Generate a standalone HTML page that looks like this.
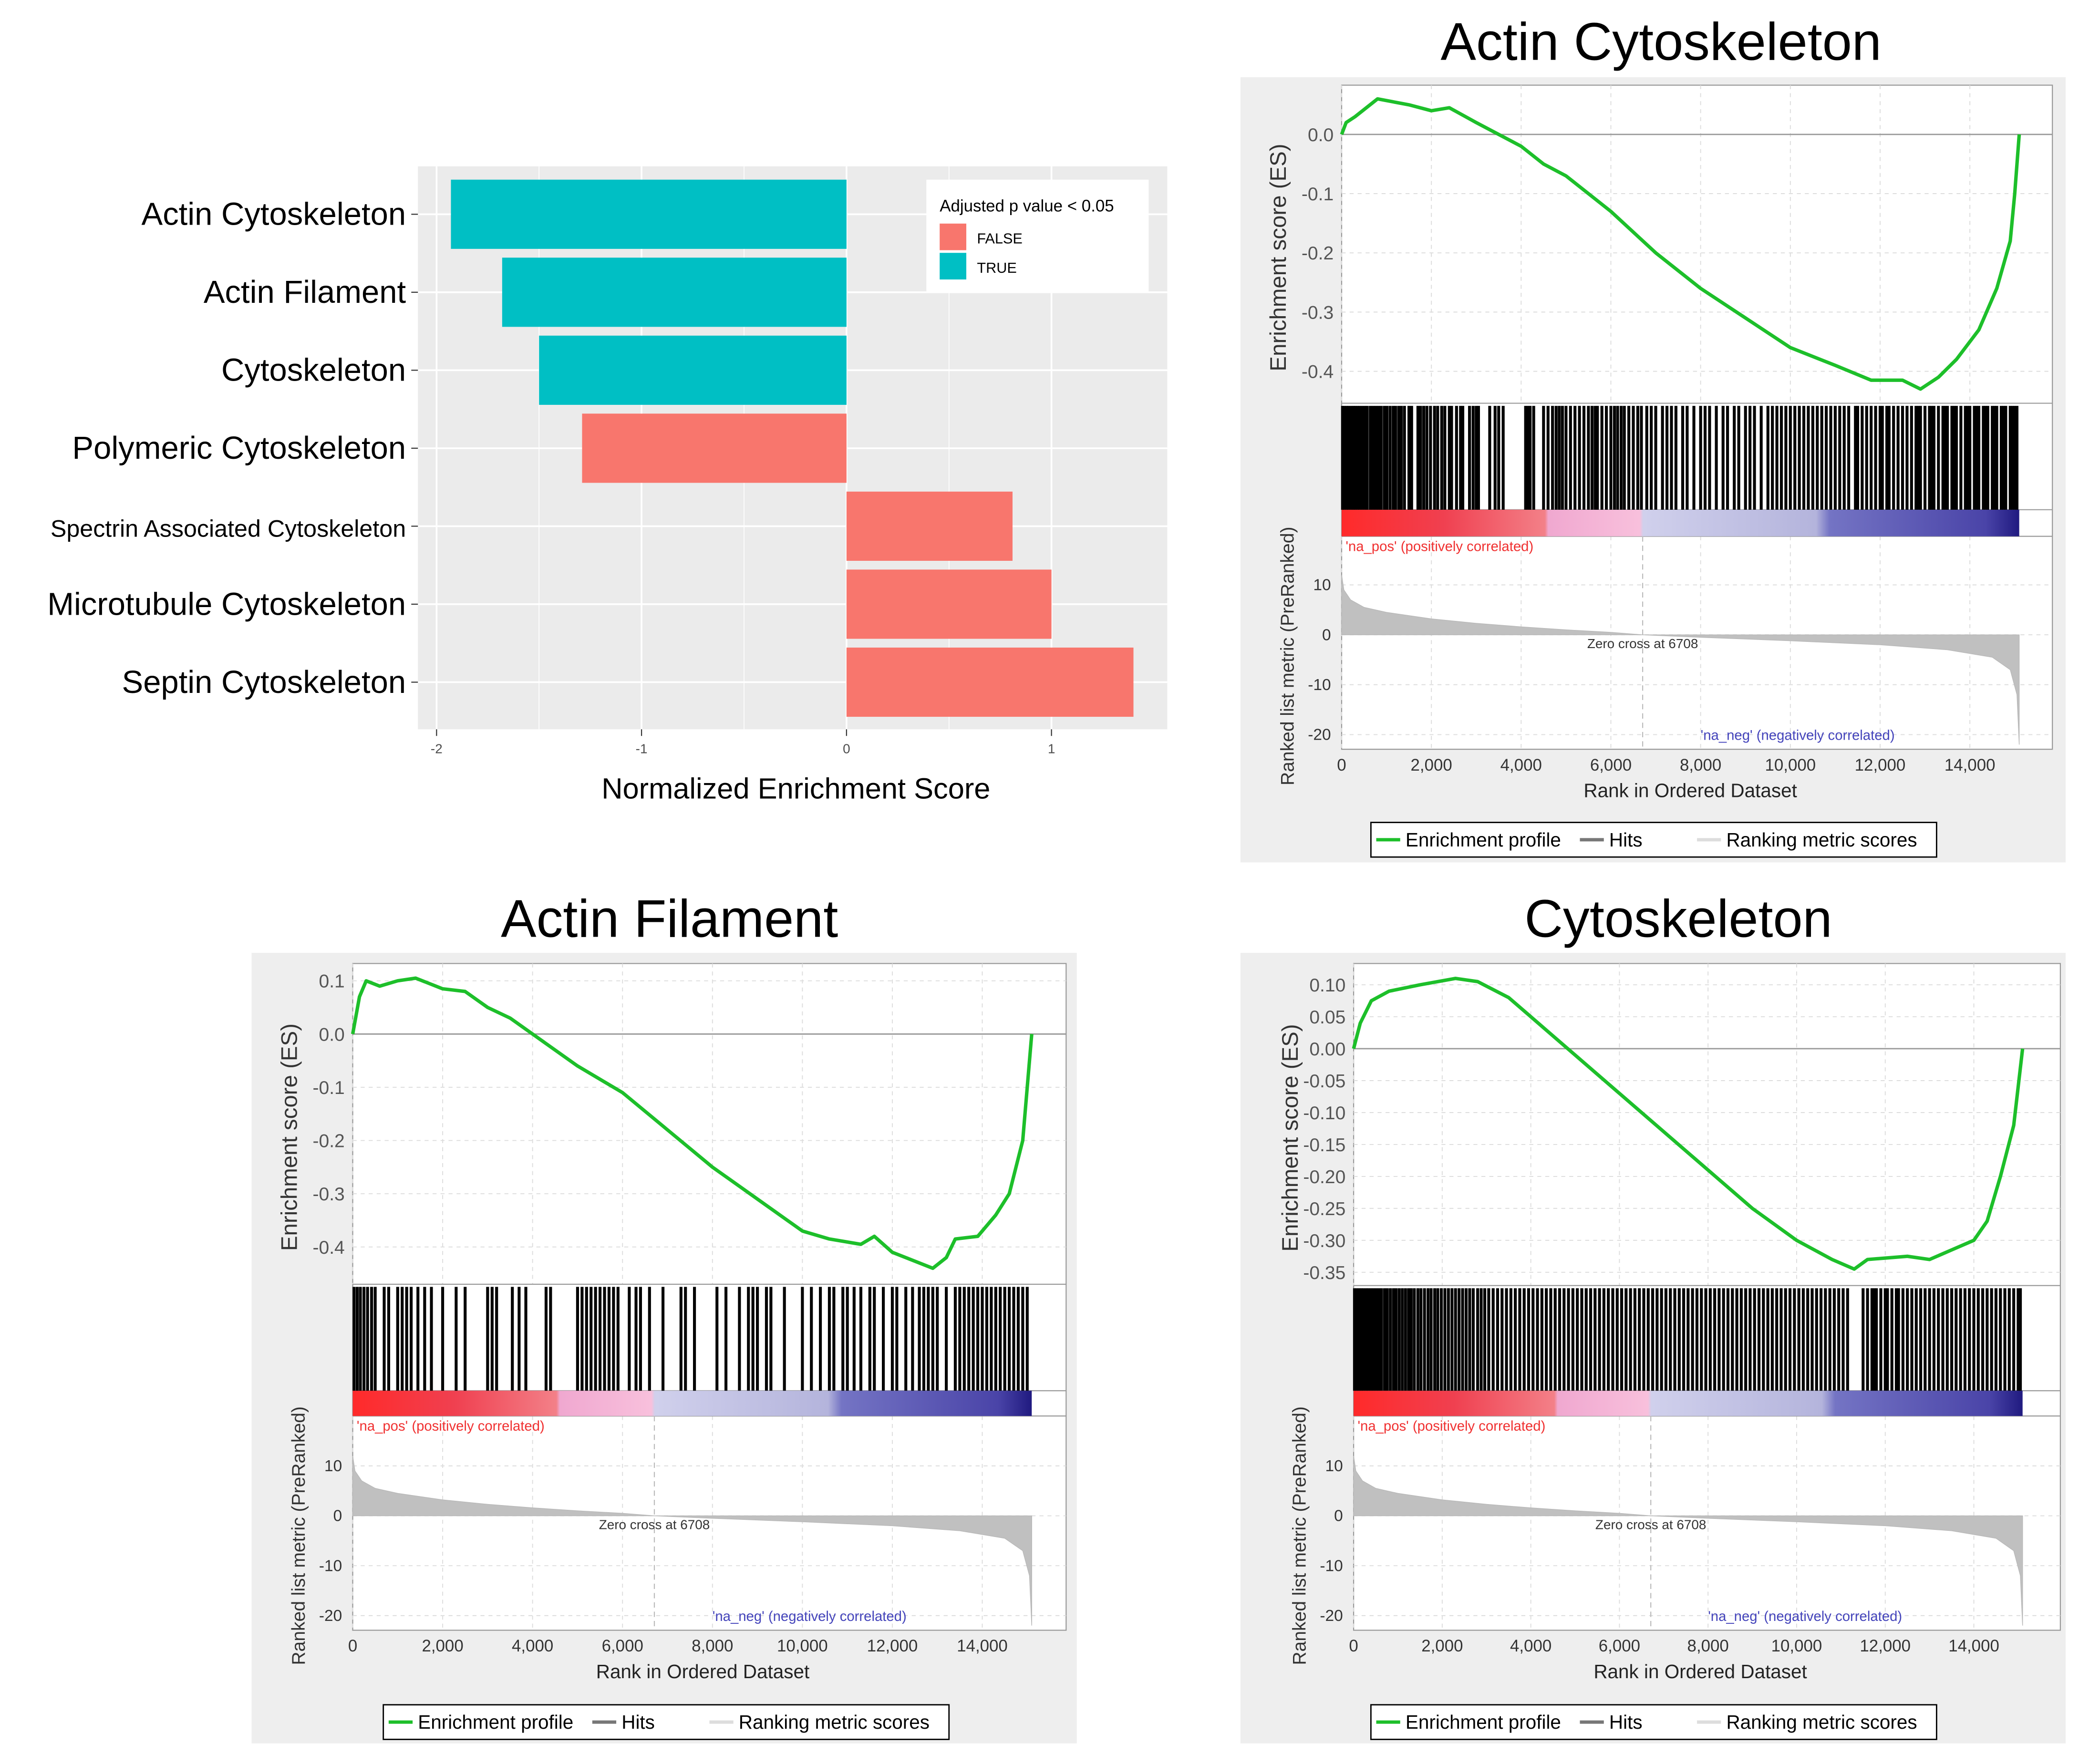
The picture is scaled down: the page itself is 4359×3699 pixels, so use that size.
<!DOCTYPE html>
<html><head><meta charset="utf-8"><style>
html,body{margin:0;padding:0;background:#fff;}
svg{display:block;}
text{font-family:"Liberation Sans","DejaVu Sans",sans-serif;}
</style></head><body>
<svg id="root" width="4359" height="3699" viewBox="0 0 1562 1325.5" xmlns="http://www.w3.org/2000/svg">
<g id="barchart"></g>
<g id="p1"></g>
<g id="p2"></g>
<g id="p3"></g>
</svg>
<script>
// ---------- Bar chart data ----------
const barCategories = ["Actin Cytoskeleton","Actin Filament","Cytoskeleton","Polymeric Cytoskeleton","Spectrin Associated Cytoskeleton","Microtubule Cytoskeleton","Septin Cytoskeleton"];
const barValues = [-1.93,-1.68,-1.50,-1.29,0.81,1.00,1.40];
const barSignificant = [true,true,true,false,false,false,false];
const barTicks = [-2,-1,0,1];

// ---------- GSEA data ----------
const metricRanks = [0,50,200,500,1000,2000,3000,4000,5000,6000,6708,8000,10000,12000,13500,14500,14900,15050,15100];
const metricValues = [12,9,7,5.5,4.5,3.2,2.3,1.6,1,0.5,0,-0.5,-1.2,-2,-3,-4.5,-7,-12,-22];
const rankTicks = [0,2000,4000,6000,8000,10000,12000,14000];
const metricTicks = [10,0,-10,-20];

const es1Ranks = [0,100,300,800,1500,2000,2400,3000,3500,4000,4500,5000,6000,7000,8000,9000,10000,11000,11800,12500,12900,13300,13700,14200,14600,14900,15000,15100];
const es1Values = [0,0.02,0.03,0.06,0.05,0.04,0.045,0.02,0,-0.02,-0.05,-0.07,-0.13,-0.2,-0.26,-0.31,-0.36,-0.39,-0.415,-0.415,-0.43,-0.41,-0.38,-0.33,-0.26,-0.18,-0.1,0];
const es1Ticks = [0,-0.1,-0.2,-0.3,-0.4];
const hits1 = [20,60,110,150,210,260,300,350,400,460,520,570,640,700,760,820,880,950,1010,1080,1150,1200,1270,1330,1400,1500,1560,1700,1760,1830,1900,1980,2070,2140,2230,2300,2400,2450,2560,2650,2700,2850,2930,3000,3050,3300,3420,3500,3600,4100,4150,4200,4280,4500,4600,4700,4780,4850,4920,5000,5100,5200,5300,5400,5500,5580,5650,5700,5800,5900,6000,6080,6150,6230,6300,6400,6500,6600,6680,6800,6900,7000,7150,7250,7350,7450,7600,7700,7850,8000,8100,8200,8350,8500,8600,8750,8850,9000,9100,9200,9350,9500,9600,9700,9800,9900,10000,10100,10200,10300,10400,10500,10600,10700,10800,10900,11000,11100,11200,11300,11450,11500,11600,11700,11800,11900,12000,12050,12150,12200,12300,12400,12500,12600,12700,12800,12850,12900,13000,13100,13150,13200,13300,13400,13450,13500,13600,13650,13700,13800,13900,13950,14000,14100,14150,14200,14300,14350,14400,14500,14550,14600,14700,14750,14800,14900,14950,15000,15050];

const es2Ranks = [0,150,300,600,1000,1400,2000,2500,3000,3500,4000,5000,6000,7000,8000,9000,10000,10600,11300,11600,12000,12900,13200,13400,13900,14300,14600,14900,15000,15100];
const es2Values = [0,0.07,0.1,0.09,0.1,0.105,0.085,0.08,0.05,0.03,0,-0.06,-0.11,-0.18,-0.25,-0.31,-0.37,-0.385,-0.395,-0.38,-0.41,-0.44,-0.42,-0.385,-0.38,-0.34,-0.3,-0.2,-0.1,0];
const es2Ticks = [0.1,0,-0.1,-0.2,-0.3,-0.4];
const hits2 = [30,100,170,250,330,420,500,700,800,1000,1100,1200,1300,1450,1600,1750,2000,2300,2500,3000,3100,3200,3550,3700,3850,4300,4400,5000,5100,5200,5300,5400,5500,5600,5700,5800,5900,6150,6300,6400,6600,6900,7300,7400,7600,8100,8300,8600,8800,8900,9000,9200,9300,9600,10000,10200,10400,10600,10700,10900,11000,11150,11300,11500,11600,11800,12000,12100,12300,12450,12600,12700,12800,12900,13000,13200,13400,13500,13600,13700,13800,13900,14000,14100,14200,14300,14400,14500,14600,14700,14800,14900,15000];

const es3Ranks = [0,150,400,800,1500,2300,2800,3500,4000,5000,6000,7000,8000,9000,10000,10800,11300,11600,12500,13000,13500,14000,14300,14600,14900,15100];
const es3Values = [0,0.04,0.075,0.09,0.1,0.11,0.105,0.08,0.05,-0.01,-0.07,-0.13,-0.19,-0.25,-0.3,-0.33,-0.345,-0.33,-0.325,-0.33,-0.315,-0.3,-0.27,-0.2,-0.12,0];
const es3Ticks = [0.1,0.05,0,-0.05,-0.1,-0.15,-0.2,-0.25,-0.3,-0.35];
const hits3 = [20,70,120,170,220,280,330,390,450,510,570,630,700,760,830,900,960,1030,1100,1170,1240,1300,1370,1450,1520,1600,1680,1750,1830,1900,1980,2060,2140,2220,2300,2380,2460,2540,2620,2700,2800,2880,2960,3050,3150,3250,3350,3450,3550,3650,3750,3850,3950,4050,4150,4250,4350,4450,4550,4650,4750,4850,4950,5050,5150,5250,5350,5450,5550,5650,5750,5850,5950,6050,6150,6250,6350,6450,6550,6650,6750,6850,6950,7050,7150,7250,7350,7450,7550,7650,7750,7850,7950,8050,8150,8250,8350,8450,8550,8650,8750,8850,8950,9050,9150,9250,9350,9450,9550,9650,9750,9850,9950,10050,10150,10250,10350,10450,10550,10650,10750,10850,10950,11050,11150,11500,11600,11700,11750,11800,11900,12000,12050,12150,12250,12300,12400,12500,12600,12700,12800,12900,13000,13100,13200,13300,13400,13500,13600,13700,13800,13900,14000,14100,14200,14300,14400,14500,14600,14700,14800,14900,15000,15050];

const NS = "http://www.w3.org/2000/svg";
function mk(parent, tag, attrs, txt){
  const e = document.createElementNS(NS, tag);
  for (const k in attrs) e.setAttribute(k, attrs[k]);
  if (txt !== undefined) e.textContent = txt;
  parent.appendChild(e);
  return e;
}

// ---------- Bar chart ----------
(function(){
  const g = document.getElementById('barchart');
  const x0 = 636, ux = 154;
  const xs = v => x0 + v*ux;
  const bg = mk(g,'rect',{x:314,y:125,width:563,height:423,fill:'#EBEBEB'});
  
  
  [-1.5,-0.5,0.5].forEach(v=>{ mk(g,'line',{x1:xs(v),x2:xs(v),y1:125,y2:548,stroke:'#fff','stroke-width':0.6}); });
  barTicks.forEach(v=>{ mk(g,'line',{x1:xs(v),x2:xs(v),y1:125,y2:548,stroke:'#fff','stroke-width':1.3}); });
  const step = 58.6, top0 = 161;
  barCategories.forEach((c,i)=>{
    const cy = top0 + i*step;
    mk(g,'line',{x1:314,x2:877,y1:cy,y2:cy,stroke:'#fff','stroke-width':1.3});
  });
  barCategories.forEach((c,i)=>{
    const cy = top0 + i*step;
    const v = barValues[i];
    const r = mk(g,'rect',{x:Math.min(xs(v),x0),y:cy-26,width:Math.abs(v)*ux,height:52,fill:barSignificant[i]?'#00BFC4':'#F8766D'});
    
    
    mk(g,'line',{x1:309,x2:314,y1:cy,y2:cy,stroke:'#333','stroke-width':0.8});
    const t = mk(g,'text',{x:305,y:cy+8,'text-anchor':'end','font-size':c.length>30?18:24,fill:'#000'},c);
    
    
  });
  barTicks.forEach(v=>{
    mk(g,'line',{x1:xs(v),x2:xs(v),y1:548,y2:553,stroke:'#333','stroke-width':0.8});
    const t = mk(g,'text',{x:xs(v),y:566,'text-anchor':'middle','font-size':10,fill:'#4d4d4d'},String(v));
    
    
  });
  const xt = mk(g,'text',{x:598,y:600,'text-anchor':'middle','font-size':22},'Normalized Enrichment Score');
  
  
  const lg = mk(g,'g',{});
  
  
  mk(lg,'rect',{x:696,y:135,width:167,height:84,fill:'#fff'});
  mk(lg,'text',{x:706,y:159,'font-size':12.5},'Adjusted p value < 0.05');
  mk(lg,'rect',{x:706,y:168,width:20,height:20,fill:'#F8766D'});
  mk(lg,'rect',{x:706,y:190,width:20,height:20,fill:'#00BFC4'});
  mk(lg,'text',{x:734,y:183,'font-size':11},'FALSE');
  mk(lg,'text',{x:734,y:205,'font-size':11},'TRUE');
})();

// ---------- GSEA panels ----------
function gsea(id, cfg, esRanks, esValues, esTicks, hits, title){
  const g = document.getElementById(id);
  const xs = r => cfg.x0 + r*cfg.ux;
  const ye = v => cfg.ye0 - v*cfg.uy;
  const ym = v => cfg.ym0 - v*3.75;
  const bg = mk(g,'rect',{x:cfg.bx,y:cfg.by,width:620,height:cfg.bh,fill:'#EEEEEE'});
  
  
  const tt = mk(g,'text',{x:cfg.tx,y:cfg.ty,'text-anchor':'middle','font-size':40},title);
  
  
  mk(g,'rect',{x:cfg.fx1,y:cfg.fy1,width:cfg.fx2-cfg.fx1,height:cfg.fy2-cfg.fy1,fill:'#fff',stroke:'#999','stroke-width':0.8});
  rankTicks.forEach(r=>{
    mk(g,'line',{x1:xs(r),x2:xs(r),y1:cfg.fy1,y2:cfg.sep,stroke:'#ddd','stroke-width':0.7,'stroke-dasharray':'3,3'});
    mk(g,'line',{x1:xs(r),x2:xs(r),y1:cfg.cb2,y2:cfg.fy2,stroke:'#ddd','stroke-width':0.7,'stroke-dasharray':'3,3'});
  });
  esTicks.forEach(v=>{
    mk(g,'line',{x1:cfg.fx1,x2:cfg.fx2,y1:ye(v),y2:ye(v),stroke:v===0?'#999':'#ddd','stroke-width':v===0?1:0.7,'stroke-dasharray':v===0?'':'3,3'});
    const t = mk(g,'text',{x:cfg.fx1-6,y:ye(v)+5,'text-anchor':'end','font-size':14,fill:'#555'},cfg.dec===2?v.toFixed(2):v.toFixed(1));
    
    
  });
  metricTicks.forEach(v=>{
    mk(g,'line',{x1:cfg.fx1,x2:cfg.fx2,y1:ym(v),y2:ym(v),stroke:'#ddd','stroke-width':0.7,'stroke-dasharray':'3,3'});
    const t = mk(g,'text',{x:cfg.fx1-8,y:ym(v)+4,'text-anchor':'end','font-size':12,fill:'#333'},String(v));
    
    
  });
  mk(g,'line',{x1:cfg.fx1,x2:cfg.fx2,y1:cfg.sep,y2:cfg.sep,stroke:'#999','stroke-width':0.8});
  mk(g,'line',{x1:cfg.fx1,x2:cfg.fx2,y1:cfg.cb1,y2:cfg.cb1,stroke:'#999','stroke-width':0.8});
  mk(g,'line',{x1:cfg.fx1,x2:cfg.fx2,y1:cfg.cb2,y2:cfg.cb2,stroke:'#999','stroke-width':0.8});
  let d = 'M'+xs(metricRanks[0])+','+ym(0);
  metricRanks.forEach((r,i)=>{ d += ' L'+xs(r)+','+ym(metricValues[i]); });
  d += ' L'+xs(metricRanks[metricRanks.length-1])+','+ym(0)+' Z';
  const ar = mk(g,'path',{d:d,fill:'#c0c0c0',stroke:'#b8b8b8','stroke-width':0.5});
  
  
  mk(g,'line',{x1:xs(6708),x2:xs(6708),y1:cfg.cb2,y2:cfg.fy2,stroke:'#bbb','stroke-width':0.8,'stroke-dasharray':'4,3'});
  const zc = mk(g,'text',{x:xs(6708),y:ym(0)+10,'text-anchor':'middle','font-size':10,fill:'#333'},'Zero cross at 6708');
  
  
  const pl = mk(g,'text',{x:cfg.fx1+3,y:cfg.cb2+11,'font-size':10.5,fill:'#f03030'},"'na_pos' (positively correlated)");
  
  
  const nl = mk(g,'text',{x:xs(8000),y:cfg.fy2-7,'font-size':10.5,fill:'#4444bb'},"'na_neg' (negatively correlated)");
  
  
  const gid = 'grad'+id;
  const defs = mk(g,'defs',{});
  const lgd = mk(defs,'linearGradient',{id:gid,x1:0,x2:1,y1:0,y2:0});
  [[0,'#ff2a2a'],[0.15,'#f04050'],[0.3,'#f38088'],[0.305,'#f0a8d0'],[0.44,'#f8c0dc'],[0.445,'#d0d0ec'],[0.7,'#b4b4dc'],[0.72,'#7474c4'],[0.95,'#4a44a8'],[1,'#201a80']].forEach(s=>mk(lgd,'stop',{offset:s[0],'stop-color':s[1]}));
  const cb = mk(g,'rect',{x:xs(0),y:cfg.cb1,width:xs(15100)-xs(0),height:cfg.cb2-cfg.cb1,fill:'url(#'+gid+')'});
  
  
  const hg = mk(g,'g',{});
  
  
  hits.forEach(r=>{
    const l = mk(hg,'line',{x1:xs(r),x2:xs(r),y1:cfg.sep+2,y2:cfg.cb1,stroke:'#000','stroke-width':2.2});
    
    
  });
  let pd = '';
  esRanks.forEach((r,i)=>{ pd += (i?' L':'M')+xs(r)+','+ye(esValues[i]); });
  const es = mk(g,'path',{d:pd,fill:'none',stroke:'#1dbf2a','stroke-width':2.6,'stroke-linejoin':'round'});
  
  
  rankTicks.forEach(r=>{
    const t = mk(g,'text',{x:xs(r),y:cfg.fy2+16,'text-anchor':'middle','font-size':12.5,fill:'#333'},r.toLocaleString('en-US'));
    
    
  });
  const xt = mk(g,'text',{x:(cfg.fx1+cfg.fx2)/2-5,y:cfg.fy2+36,'text-anchor':'middle','font-size':14.5,fill:'#222'},'Rank in Ordered Dataset');
  
  
  const y1 = mk(g,'text',{x:0,y:0,'text-anchor':'middle','font-size':17,fill:'#333',transform:'translate('+(cfg.fx1-42)+','+((cfg.fy1+cfg.sep)/2+10)+') rotate(-90)'},'Enrichment score (ES)');
  
  
  const y2 = mk(g,'text',{x:0,y:0,'text-anchor':'middle','font-size':14,fill:'#333',transform:'translate('+(cfg.fx1-36)+','+(cfg.cb2 + (cfg.fy2-cfg.cb1)/2)+') rotate(-90)'},'Ranked list metric (PreRanked)');
  
  
  const lg = mk(g,'g',{});
  
  
  const lx = cfg.lx, ly = cfg.ly;
  mk(lg,'rect',{x:lx,y:ly,width:425,height:26,fill:'#fff',stroke:'#000','stroke-width':1});
  mk(lg,'line',{x1:lx+4,x2:lx+22,y1:ly+13,y2:ly+13,stroke:'#1dbf2a','stroke-width':2.5});
  mk(lg,'text',{x:lx+26,y:ly+18,'font-size':14.5},'Enrichment profile');
  mk(lg,'line',{x1:lx+157,x2:lx+175,y1:ly+13,y2:ly+13,stroke:'#777','stroke-width':2.5});
  mk(lg,'text',{x:lx+179,y:ly+18,'font-size':14.5},'Hits');
  mk(lg,'line',{x1:lx+245,x2:lx+263,y1:ly+13,y2:ly+13,stroke:'#ddd','stroke-width':2.5});
  mk(lg,'text',{x:lx+267,y:ly+18,'font-size':14.5},'Ranking metric scores');
}

gsea('p1',{bx:932,by:58,bh:590,tx:1248,ty:45,fx1:1008,fx2:1542,fy1:64,fy2:563,sep:303,cb1:383,cb2:403,x0:1008,ux:472/14000,ye0:101,uy:445,ym0:477,dec:1,lx:1030,ly:618},es1Ranks,es1Values,es1Ticks,hits1,'Actin Cytoskeleton');
gsea('p2',{bx:189,by:716,bh:594,tx:503,ty:704,fx1:265,fx2:801,fy1:724,fy2:1225,sep:965,cb1:1045,cb2:1064,x0:265,ux:473/14000,ye0:777,uy:400,ym0:1139,dec:1,lx:288,ly:1281},es2Ranks,es2Values,es2Ticks,hits2,'Actin Filament');
gsea('p3',{bx:932,by:716,bh:594,tx:1261,ty:704,fx1:1017,fx2:1548,fy1:724,fy2:1225,sep:966,cb1:1045,cb2:1064,x0:1017,ux:466/14000,ye0:788,uy:480,ym0:1139,dec:2,lx:1030,ly:1281},es3Ranks,es3Values,es3Ticks,hits3,'Cytoskeleton');
</script>
</body></html>
